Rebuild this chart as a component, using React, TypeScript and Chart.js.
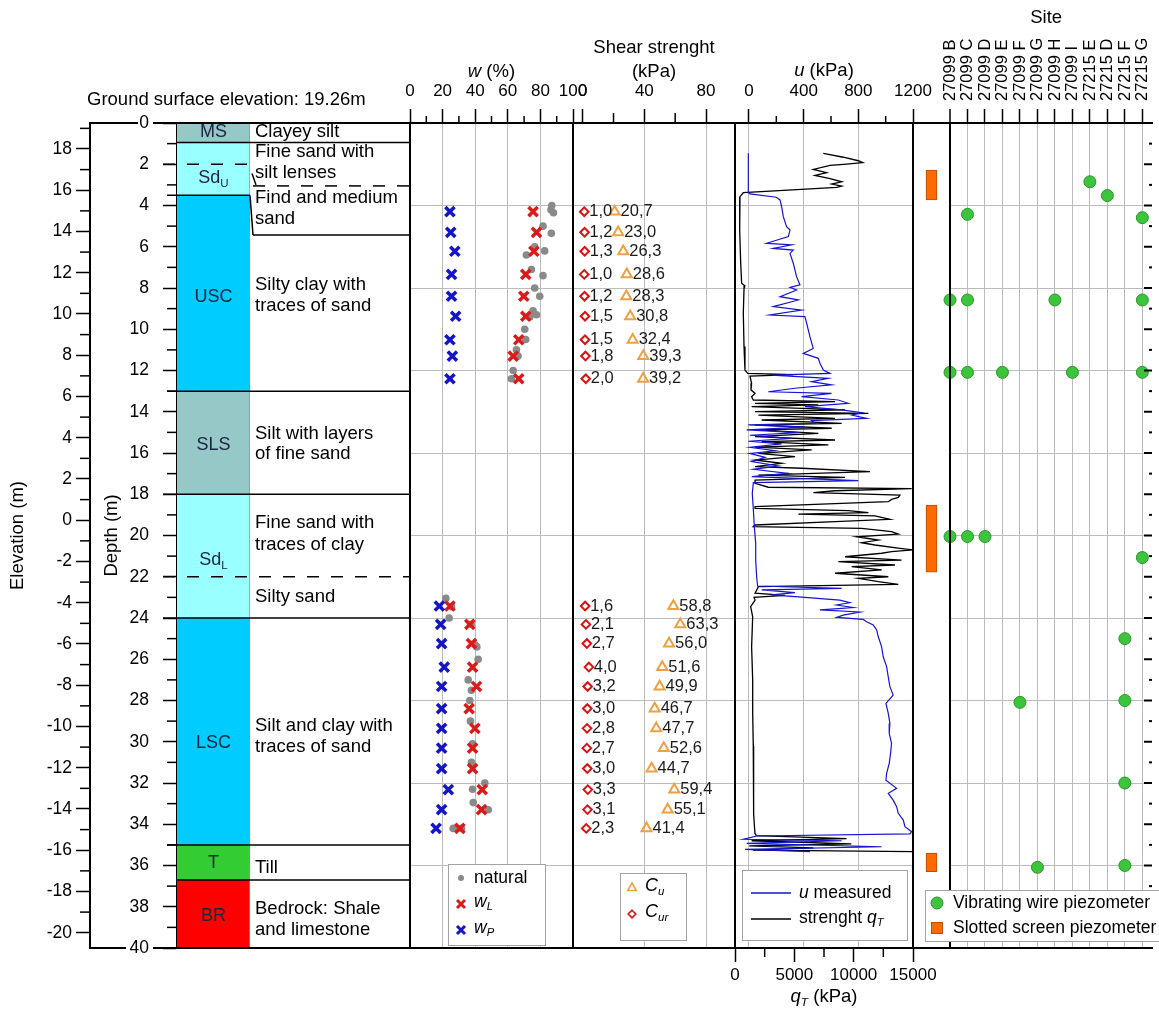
import React, { useEffect, useRef } from 'react';
import { Chart, registerables } from 'chart.js';

Chart.register(...registerables);

const FONT = '"Liberation Sans", Arial, Helvetica, sans-serif';
Chart.defaults.font.family = FONT;
Chart.defaults.color = '#000';

// ---------- page / panel geometry (px) ----------
const CW = 1159;
const CH = 1013;
const TOP = 123;
const BOT = 948;
const X_ELEV = 90;
const X_COL_L = 177;
const X_COL_R = 250;
const X_W_L = 410;
const X_W_R = 573;
const X_S_R = 735;
const X_U_R = 913;
const X_SITE_L = 950;
const GRID = '#bcbcbc';
const CLEAR = 'rgba(0,0,0,0)';

// ---------- axes ----------
const groundElevation = 19.26;
const depthMax = 40;
const depthTicks = [0, 2, 4, 6, 8, 10, 12, 14, 16, 18, 20, 22, 24, 26, 28, 30, 32, 34, 36, 38, 40];
const depthMinor = [1, 3, 5, 7, 9, 11, 13, 15, 17, 19, 21, 23, 25, 27, 29, 31, 33, 35, 37, 39];
const elevTicks = [-20, -18, -16, -14, -12, -10, -8, -6, -4, -2, 0, 2, 4, 6, 8, 10, 12, 14, 16, 18];
const elevMinor = [-19, -17, -15, -13, -11, -9, -7, -5, -3, -1, 1, 3, 5, 7, 9, 11, 13, 15, 17, 19];
const depthGrid = [4, 8, 12, 16, 20, 24, 28, 32, 36];
const wTicks = [0, 20, 40, 60, 80, 100];
const wMinor = [10, 30, 50, 70, 90];
const shearTicks = [0, 40, 80];
const shearMinor = [20, 60];
const uTicks = [0, 400, 800, 1200];
const uMinor = [200, 600, 1000];
const qtTicks = [0, 5000, 10000, 15000];
const qtMinor = [2500, 7500, 12500];

// ---------- stratigraphy ----------
const layerCodes = ['MS', 'Sd', 'USC', 'SLS', 'Sd', 'LSC', 'T', 'BR'];
const layerCodeSubs = ['', 'U', '', '', 'L', '', '', ''];
const layerTop = [0, 0.95, 3.5, 13, 18, 24, 35, 36.7];
const layerBottom = [0.95, 3.5, 13, 18, 24, 35, 36.7, 40];
const layerCodeDepth = [0.42, 2.68, 8.45, 15.6, 21.2, 30.05, 35.9, 38.45];
const layerColors = ['#96c8c8', '#99ffff', '#00ccff', '#96c8c8', '#99ffff', '#00ccff', '#33cc33', '#ff0000'];
const subLayerDepths = [2.0, 3.05, 5.43, 22.0];
const descText = [
  'Clayey silt', 'Fine sand with', 'silt lenses', 'Find and medium', 'sand',
  'Silty clay with', 'traces of sand', 'Silt with layers', 'of fine sand',
  'Fine sand with', 'traces of clay', 'Silty sand', 'Silt and clay with',
  'traces of sand', 'Till', 'Bedrock: Shale', 'and limestone',
];
const descDepth = [0.45, 1.39, 2.44, 3.65, 4.67, 7.85, 8.86, 15.05, 16.05, 19.41, 20.46, 22.97, 29.24, 30.24, 36.14, 38.12, 39.13];

// ---------- water content & shear strength (same samples) ----------
const sampleDepth = [4.3, 5.3, 6.22, 7.34, 8.4, 9.37, 10.51, 11.3, 12.4, 23.42, 24.31, 25.24, 26.38, 27.32, 28.39, 29.35, 30.31, 31.3, 32.32, 33.29, 34.2];
const wP = [24.5, 25, 27.5, 25.5, 25.5, 28, 24.5, 26, 24.5, 18, 18.8, 19.4, 21, 19.4, 19.4, 19.4, 19.4, 19.4, 23.5, 19.4, 16];
const wL = [75.5, 77.6, 76, 71, 69.8, 71, 66.7, 63.3, 66.7, 24.5, 36.7, 37.7, 38.4, 40.8, 36.3, 39.8, 38.4, 38.4, 44.3, 43.9, 30.6];
const cu = [20.7, 23.0, 26.3, 28.6, 28.3, 30.8, 32.4, 39.3, 39.2, 58.8, 63.3, 56.0, 51.6, 49.9, 46.7, 47.7, 52.6, 44.7, 59.4, 55.1, 41.4];
const cur = [1.0, 1.2, 1.3, 1.0, 1.2, 1.5, 1.5, 1.8, 2.0, 1.6, 2.1, 2.7, 4.0, 3.2, 3.0, 2.8, 2.7, 3.0, 3.3, 3.1, 2.3];
const naturalW: [number, number][] = [
  [4.0, 87], [4.2, 86.5], [4.35, 88], [5.0, 81.6], [5.35, 86.7], [6.0, 76.5], [6.2, 82.6], [6.4, 71.4],
  [7.1, 74.5], [7.4, 81.6], [8.0, 76.5], [8.4, 79.6], [9.1, 75.5], [9.3, 77.6], [9.4, 73.5], [10.0, 70.4],
  [10.5, 71], [11.0, 65.3], [11.3, 66.3], [12.0, 63.3], [12.4, 62.2],
  [23.05, 22], [23.45, 25.5], [24.0, 24], [24.3, 37.5], [25.3, 39.8], [25.4, 41], [26.0, 41.8], [27.0, 35.7],
  [27.5, 37.7], [28.0, 36.7], [29.0, 37.1], [30.1, 38.4], [31.0, 37.7], [32.0, 45.9], [32.3, 38.4],
  [32.95, 38.8], [33.3, 48], [34.2, 26.5], [34.2, 31.6],
];

// ---------- CPTU profile: [depth, value] ----------
const uMeasured: [number, number][] = [
  [1.47, -5], [3.38, -5], [3.44, 7], [3.6, 200], [3.73, 227], [4.06, 239], [4.54, 251], [5.03, 275], [5.19, 300], [5.51, 288],
  [5.83, 129], [5.91, 312], [6.08, 178], [6.16, 324], [6.32, 300], [6.8, 324], [7.45, 348], [7.85, 373], [7.97, 300], [8.1, 348],
  [8.42, 227], [8.58, 361], [8.9, 178], [9.07, 385], [9.31, 153], [9.39, 409], [9.71, 422], [10.04, 434], [10.36, 446], [10.93, 470],
  [11.17, 397], [11.41, 507], [11.65, 519], [11.98, 544], [12.14, 592], [12.22, 166], [12.38, 580], [12.54, 458], [12.7, 604], [12.86, 336],
  [13.03, 141], [13.11, 604], [13.27, 385], [13.43, 653], [13.59, 726], [13.75, 409], [13.91, 678], [14.04, 824], [14.16, 751], [14.32, 860],
  [14.43, 458], [14.56, 483], [14.64, -5], [14.75, 410], [14.88, -17], [15.01, 361], [15.14, 7], [15.29, 312], [15.43, -5], [15.56, 239],
  [15.72, 7], [15.89, 190], [16.02, 7], [16.21, 117], [16.42, 20], [16.63, 214], [16.79, 32], [16.99, 288], [17.15, 20], [17.34, 800],
  [17.44, 32], [17.95, 24], [18.76, 32], [19.57, 39], [20.38, 49], [21.19, 49], [22.0, 56], [22.45, 63], [22.56, 678], [22.64, 93],
  [22.77, 336], [22.88, 166], [22.99, 385], [23.13, 665], [23.26, 738], [23.37, 641], [23.49, 763], [23.61, 519], [23.71, 812], [23.86, 690],
  [23.97, 641], [24.07, 836], [24.18, 860], [24.34, 909], [24.58, 934], [24.91, 946], [25.39, 970], [25.88, 982], [26.36, 1007], [26.85, 1019],
  [27.33, 1031], [27.74, 1055], [28.14, 1002], [28.62, 1019], [29.11, 1031], [29.59, 1026], [30.08, 1043], [30.56, 1036], [31.05, 1026], [31.53, 1007],
  [31.86, 1002], [32.26, 1080], [32.5, 1019], [32.83, 1055], [33.15, 1080], [33.47, 1092], [33.8, 1129], [34.12, 1141], [34.36, 1190], [34.47, 1177],
  [34.57, 56], [34.73, -42], [34.8, 678], [34.93, -17], [35.09, 970], [35.22, -29], [35.33, 446],
];
const qtStrength: [number, number][] = [
  [1.47, 7440], [1.66, 9130], [1.83, 10390], [1.92, 10760], [1.99, 9410], [2.05, 8010], [2.25, 6600], [2.41, 7720], [2.54, 6740], [2.7, 8010],
  [2.85, 8990], [2.96, 8150], [3.06, 8990], [3.12, 8570], [3.38, 700], [3.57, 420], [4.06, 370], [5.19, 420], [6.8, 480], [7.77, 560],
  [7.9, 840], [8.02, 760], [9.23, 700], [10.84, 760], [11.98, 840], [12.14, 1070], [12.2, 4920], [12.27, 1260], [12.62, 1400], [12.94, 1350],
  [13.11, 1690], [13.27, 1400], [13.43, 1540], [13.51, 8430], [13.59, 1690], [13.67, 7020], [13.75, 1400], [13.91, 9270], [13.99, 1690], [14.08, 11240],
  [14.16, 1970], [14.32, 8430], [14.4, 2250], [14.56, 8990], [14.64, 1690], [14.8, 8150], [14.88, 1970], [15.05, 7020], [15.21, 1690], [15.37, 8430],
  [15.45, 2250], [15.61, 7870], [15.72, 1690], [15.85, 6460], [16.02, 1970], [16.18, 5060], [16.34, 1690], [16.5, 3930], [16.66, 1690], [16.74, 5620],
  [16.9, 11380], [17.07, 1970], [17.18, 9270], [17.31, 1690], [17.47, 1690], [17.66, 2810], [17.73, 14890], [17.83, 8430], [17.92, 6600], [18.04, 13900],
  [18.15, 13760], [18.25, 13200], [18.36, 12920], [18.6, 1690], [18.68, 1690], [18.79, 9550], [18.89, 11240], [18.96, 5340], [19.05, 11800], [19.22, 13060],
  [19.33, 8430], [19.49, 1690], [19.57, 1540], [19.65, 10670], [19.81, 13200], [19.93, 13760], [20.06, 10250], [20.22, 12080], [20.35, 10670], [20.46, 11800],
  [20.62, 13900], [20.7, 15000], [20.78, 13200], [20.86, 12360], [21.03, 9270], [21.19, 14040], [21.27, 8710], [21.43, 13480], [21.51, 9830], [21.67, 12360],
  [21.83, 8430], [22.0, 12920], [22.08, 10390], [22.24, 12080], [22.37, 13760], [22.48, 1970], [22.64, 1830], [22.8, 1690], [22.9, 4200], [23.0, 1600],
  [23.13, 1690], [23.45, 1320], [23.94, 1490], [25.4, 1400], [27.0, 1490], [28.6, 1490], [30.2, 1540], [31.9, 1540], [33.5, 1600], [34.45, 1680],
  [34.55, 1800], [34.7, 9400], [34.8, 1400], [34.95, 9800], [35.05, 1200], [35.15, 6600], [35.25, 1500], [35.33, 15000],
];

// ---------- piezometers ----------
const siteNames = ['27099 B', '27099 C', '27099 D', '27099 E', '27099 F', '27099 G', '27099 H', '27099 I', '27215 E', '27215 D', '27215 F', '27215 G'];
const vibratingWire: [number, number][] = [
  [8, 2.85], [9, 3.52], [1, 4.43], [11, 4.59], [0, 8.58], [1, 8.58], [6, 8.58], [11, 8.58],
  [0, 12.09], [1, 12.09], [3, 12.09], [7, 12.09], [11, 12.09], [0, 20.05], [1, 20.05], [2, 20.05],
  [11, 21.07], [10, 25.0], [4, 28.09], [10, 28.0], [10, 32.0], [5, 36.09], [10, 36.0],
];
const slotTop = [2.28, 18.52, 35.4];
const slotBottom = [3.73, 21.78, 36.3];

// ---------- helpers ----------
type Seg = { t: string; i?: boolean; sub?: boolean };
const fontStr = (size: number, italic?: boolean) => `${italic ? 'italic ' : ''}${size}px ${FONT}`;
function drawRich(ctx: any, segs: Seg[], x: number, y: number, size: number, align = 'left', color = '#000') {
  ctx.save();
  ctx.textBaseline = 'middle';
  ctx.textAlign = 'left';
  ctx.fillStyle = color;
  const sub = size * 0.64;
  const widths = segs.map((s) => { ctx.font = fontStr(s.sub ? sub : size, s.i); return ctx.measureText(s.t).width; });
  const total = widths.reduce((a, b) => a + b, 0);
  let cx = align === 'center' ? x - total / 2 : x;
  segs.forEach((s, k) => {
    ctx.font = fontStr(s.sub ? sub : size, s.i);
    ctx.fillText(s.t, cx, s.sub ? y + size * 0.3 : y);
    cx += widths[k];
  });
  ctx.restore();
}
function mX(ctx: any, x: number, y: number, r: number, color: string, lw: number) {
  ctx.save(); ctx.strokeStyle = color; ctx.lineWidth = lw; ctx.beginPath();
  ctx.moveTo(x - r, y - r); ctx.lineTo(x + r, y + r); ctx.moveTo(x + r, y - r); ctx.lineTo(x - r, y + r);
  ctx.stroke(); ctx.restore();
}
function mCircle(ctx: any, x: number, y: number, r: number, fill: string, stroke?: string) {
  ctx.save(); ctx.beginPath(); ctx.arc(x, y, r, 0, Math.PI * 2); ctx.fillStyle = fill; ctx.fill();
  if (stroke) { ctx.strokeStyle = stroke; ctx.lineWidth = 1; ctx.stroke(); }
  ctx.restore();
}
function mTri(ctx: any, x: number, y: number, r: number, color: string, lw: number) {
  ctx.save(); ctx.strokeStyle = color; ctx.lineWidth = lw; ctx.beginPath();
  ctx.moveTo(x, y - r); ctx.lineTo(x + 0.866 * r, y + 0.5 * r); ctx.lineTo(x - 0.866 * r, y + 0.5 * r); ctx.closePath();
  ctx.stroke(); ctx.restore();
}
function mDiamond(ctx: any, x: number, y: number, r: number, color: string, lw: number) {
  ctx.save(); ctx.strokeStyle = color; ctx.lineWidth = lw; ctx.beginPath();
  ctx.moveTo(x, y - r); ctx.lineTo(x + r, y); ctx.lineTo(x, y + r); ctx.lineTo(x - r, y); ctx.closePath();
  ctx.stroke(); ctx.restore();
}
function legendBox(ctx: any, x: number, y: number, w: number, h: number) {
  ctx.save(); ctx.fillStyle = '#fff'; ctx.fillRect(x, y, w, h);
  ctx.strokeStyle = '#a3a3a3'; ctx.lineWidth = 1; ctx.strokeRect(x + 0.5, y + 0.5, w, h); ctx.restore();
}
const fmtComma = (v: number) => v.toFixed(1).replace('.', ',');

const framePlugin = (id: string, sides: string) => ({
  id,
  afterDraw(chart: any) {
    const { ctx, chartArea: a } = chart;
    ctx.save(); ctx.strokeStyle = '#000'; ctx.lineWidth = 2; ctx.beginPath();
    if (sides.includes('t')) { ctx.moveTo(a.left - 1, a.top); ctx.lineTo(a.right + 1, a.top); }
    if (sides.includes('b')) { ctx.moveTo(a.left - 1, a.bottom); ctx.lineTo(a.right + 1, a.bottom); }
    if (sides.includes('l')) { ctx.moveTo(a.left, a.top); ctx.lineTo(a.left, a.bottom); }
    if (sides.includes('r')) { ctx.moveTo(a.right, a.top); ctx.lineTo(a.right, a.bottom); }
    ctx.stroke(); ctx.restore();
  },
});

const minorPlugin = (id: string, specs: { axis: string; values: number[]; len: number }[]) => ({
  id,
  afterDraw(chart: any) {
    const ctx = chart.ctx;
    ctx.save(); ctx.strokeStyle = '#000'; ctx.lineWidth = 1.5;
    for (const sp of specs) {
      const s = chart.scales[sp.axis];
      for (const v of sp.values) {
        const p = s.getPixelForValue(v);
        ctx.beginPath();
        if (s.position === 'top') { ctx.moveTo(p, s.bottom); ctx.lineTo(p, s.bottom - sp.len); }
        else if (s.position === 'bottom') { ctx.moveTo(p, s.top); ctx.lineTo(p, s.top + sp.len); }
        else { ctx.moveTo(s.right, p); ctx.lineTo(s.right - sp.len, p); }
        ctx.stroke();
      }
    }
    ctx.restore();
  },
});

const common = (padding: any) => ({
  responsive: false,
  animation: false,
  events: [],
  layout: { padding },
  plugins: { legend: { display: false }, tooltip: { enabled: false } },
});

const tickFont = { family: FONT, size: 17 };

const depthGridAxis = () => ({
  type: 'linear', position: 'left', min: 0, max: depthMax, reverse: true,
  afterBuildTicks: (s: any) => { s.ticks = depthGrid.map((v) => ({ value: v })); },
  afterFit: (s: any) => { s.width = 0; },
  ticks: { display: false },
  grid: { color: GRID, lineWidth: 1, drawTicks: false },
  border: { display: false },
});

const topAxis = (min: number, max: number, ticks: number[], gridColor: any) => ({
  type: 'linear', position: 'top', min, max,
  afterBuildTicks: (s: any) => { s.ticks = ticks.map((v) => ({ value: v })); },
  afterFit: (s: any) => { s.height = TOP; },
  ticks: { font: tickFont, color: '#000', padding: 7, maxRotation: 0, minRotation: 0, autoSkip: false, callback: (v: any) => String(v) },
  grid: { color: gridColor, lineWidth: 1, tickLength: 14, tickColor: '#000', tickWidth: 1.5 },
  border: { display: true, color: '#000', width: 2 },
});

// ---------- chart configs ----------
function stratConfig(): any {
  const stratPlugin = {
    id: 'strat',
    afterDraw(chart: any) {
      const { ctx, chartArea: a } = chart;
      const dS = chart.scales.depth;
      const py = (d: number) => dS.getPixelForValue(d);
      const L = a.left;
      const R = a.right;
      ctx.save();
      ctx.strokeStyle = '#000';
      const seg = (x1: number, d1: number, x2: number, d2: number, dashed = false, lw = 1.5) => {
        ctx.lineWidth = lw;
        ctx.setLineDash(dashed ? [12, 12] : []);
        ctx.beginPath(); ctx.moveTo(x1, py(d1)); ctx.lineTo(x2, py(d2)); ctx.stroke();
      };
      seg(X_ELEV, 0, L - 39, 0, false, 2); seg(L - 24, 0, X_W_L, 0, false, 2);
      seg(X_ELEV, depthMax, L - 51, depthMax, false, 2); seg(L - 24, depthMax, X_W_L, depthMax, false, 2);
      seg(L, layerBottom[0], X_W_L, layerBottom[0]);
      seg(L - 14, subLayerDepths[0], R, subLayerDepths[0], true);
      seg(R + 3, subLayerDepths[1], X_W_L, subLayerDepths[1], true);
      seg(R + 2, 2.45, R + 6, 3.0);
      seg(L - 10, layerBottom[1], R, layerBottom[1]);
      seg(R, layerBottom[1], R + 3, subLayerDepths[2]);
      seg(R + 3, subLayerDepths[2], X_W_L, subLayerDepths[2]);
      seg(L - 10, layerBottom[2], X_W_L, layerBottom[2]);
      seg(L - 14, layerBottom[3], X_W_L, layerBottom[3]);
      seg(L - 14, subLayerDepths[3], X_W_L, subLayerDepths[3], true);
      seg(L - 14, layerBottom[4], X_W_L, layerBottom[4]);
      seg(L - 10, layerBottom[5], X_W_L, layerBottom[5]);
      seg(L, layerBottom[6], X_W_L, layerBottom[6]);
      ctx.setLineDash([]);
      ctx.restore();
      layerCodes.forEach((c, i) => {
        const segs: Seg[] = [{ t: c }];
        if (layerCodeSubs[i]) segs.push({ t: layerCodeSubs[i], sub: true });
        drawRich(ctx, segs, (L + R) / 2, py(layerCodeDepth[i]), 18, 'center', '#1b2340');
      });
      descText.forEach((t, i) => drawRich(ctx, [{ t }], R + 5, py(descDepth[i]), 18.5, 'left', '#000'));
      drawRich(ctx, [{ t: `Ground surface elevation: ${groundElevation.toFixed(2)}m` }], 87, 100, 18.5, 'left', '#000');
    },
  };
  return {
    type: 'bar',
    data: {
      labels: ['column'],
      datasets: [{
        data: layerTop.map((t, i) => ({ x: 'column', y: [t, layerBottom[i]] })),
        backgroundColor: layerColors,
        borderColor: '#7c9c9c',
        borderWidth: { top: 0, bottom: 0, left: 0, right: 1 },
        borderSkipped: false,
        barPercentage: 1,
        categoryPercentage: 1,
        grouped: false,
        yAxisID: 'depth',
      }],
    },
    options: {
      ...common({ left: 0, right: CW - X_COL_R, top: TOP, bottom: CH - BOT }),
      scales: {
        x: { type: 'category', display: false },
        elev: {
          type: 'linear', position: 'left', weight: 10,
          min: groundElevation - depthMax, max: groundElevation,
          afterBuildTicks: (s: any) => { s.ticks = elevTicks.map((v) => ({ value: v })); },
          afterFit: (s: any) => { s.width = X_ELEV; },
          ticks: { font: { family: FONT, size: 17.5 }, color: '#000', padding: 4, autoSkip: false, callback: (v: any) => String(v) },
          grid: { drawOnChartArea: false, tickLength: 14, tickColor: '#000', tickWidth: 1.5 },
          border: { display: true, color: '#000', width: 2 },
          title: { display: true, text: 'Elevation (m)', color: '#000', font: { family: FONT, size: 18.5 }, padding: { top: 7, bottom: 0 } },
        },
        depth: {
          type: 'linear', position: 'left', weight: 0, min: 0, max: depthMax, reverse: true,
          afterBuildTicks: (s: any) => { s.ticks = depthTicks.map((v) => ({ value: v })); },
          afterFit: (s: any) => { s.width = X_COL_L - X_ELEV; },
          ticks: { font: { family: FONT, size: 17.5 }, color: '#000', padding: 14, autoSkip: false, callback: (v: any) => String(v) },
          grid: { drawOnChartArea: false, tickLength: 14, tickColor: '#000', tickWidth: 1.5 },
          border: { display: true, color: '#000', width: 1.5 },
          title: { display: true, text: 'Depth (m)', color: '#000', font: { family: FONT, size: 18.5 }, padding: { top: 11, bottom: 0 } },
        },
      },
    },
    plugins: [stratPlugin, minorPlugin('minA', [{ axis: 'elev', values: elevMinor, len: 10 }, { axis: 'depth', values: depthMinor, len: 10 }])],
  };
}

function wConfig(): any {
  const deco = {
    id: 'wDeco',
    afterDraw(chart: any) {
      const ctx = chart.ctx;
      drawRich(ctx, [{ t: 'w', i: true }, { t: ' (%)' }], (X_W_L + X_W_R) / 2, 72, 18.5, 'center');
      legendBox(ctx, 448, 864, 97, 81);
      mCircle(ctx, 461, 878, 3, '#8a8a8a');
      drawRich(ctx, [{ t: 'natural' }], 474, 878, 17.5);
      mX(ctx, 461, 904, 4, '#dd1a1a', 3);
      drawRich(ctx, [{ t: 'w', i: true }, { t: 'L', i: true, sub: true }], 474, 902, 17.5);
      mX(ctx, 461, 930, 4, '#1414c8', 3);
      drawRich(ctx, [{ t: 'w', i: true }, { t: 'P', i: true, sub: true }], 474, 928, 17.5);
    },
  };
  return {
    type: 'scatter',
    data: {
      datasets: [
        { data: sampleDepth.map((d, i) => ({ x: wP[i], y: d })), pointStyle: 'crossRot', pointRadius: 6.5, pointBorderWidth: 3.5, pointBorderColor: '#1414c8', pointBackgroundColor: '#1414c8' },
        { data: sampleDepth.map((d, i) => ({ x: wL[i], y: d })), pointStyle: 'crossRot', pointRadius: 6.5, pointBorderWidth: 3.5, pointBorderColor: '#dd1a1a', pointBackgroundColor: '#dd1a1a' },
        { data: naturalW.map(([d, v]) => ({ x: v, y: d })), pointStyle: 'circle', pointRadius: 3.8, pointBorderWidth: 0, pointBackgroundColor: '#8a8a8a', pointBorderColor: '#8a8a8a' },
      ],
    },
    options: {
      ...common({ left: X_W_L, right: CW - X_W_R, top: 0, bottom: CH - BOT }),
      scales: {
        x: topAxis(0, 100, wTicks, (c: any) => (c.tick && (c.tick.value === 0 || c.tick.value === 100) ? CLEAR : GRID)),
        y: depthGridAxis(),
      },
    },
    plugins: [framePlugin('frB', 'lrtb'), minorPlugin('minB', [{ axis: 'x', values: wMinor, len: 7 }]), deco],
  };
}

function shearConfig(): any {
  const deco = {
    id: 'sDeco',
    afterDatasetsDraw(chart: any) {
      const ctx = chart.ctx;
      ctx.save();
      ctx.font = fontStr(16.5);
      ctx.fillStyle = '#1a1a1a';
      ctx.textBaseline = 'middle';
      ctx.textAlign = 'left';
      chart.data.datasets.forEach((ds: any, di: number) => {
        const meta = chart.getDatasetMeta(di);
        meta.data.forEach((el: any, i: number) => ctx.fillText(ds.valueText[i], el.x + ds.valueDx, el.y));
      });
      ctx.restore();
    },
    afterDraw(chart: any) {
      const ctx = chart.ctx;
      const cx = (X_W_R + X_S_R) / 2;
      drawRich(ctx, [{ t: 'Shear strenght' }], cx, 48, 18.5, 'center');
      drawRich(ctx, [{ t: '(kPa)' }], cx, 72, 18.5, 'center');
      legendBox(ctx, 620, 873, 66, 67);
      mTri(ctx, 632, 888, 5, '#f0a040', 1.6);
      drawRich(ctx, [{ t: 'C', i: true }, { t: 'u', i: true, sub: true }], 645, 886, 18);
      mDiamond(ctx, 632, 914, 3.8, '#dd1111', 1.6);
      drawRich(ctx, [{ t: 'C', i: true }, { t: 'ur', i: true, sub: true }], 645, 912, 18);
    },
  };
  return {
    type: 'scatter',
    data: {
      datasets: [
        { data: sampleDepth.map((d, i) => ({ x: cur[i], y: d })), pointStyle: 'rectRot', pointRadius: 4.3, pointBorderWidth: 2, pointBorderColor: '#dd1111', pointBackgroundColor: '#ffffff', valueText: cur.map(fmtComma), valueDx: 5 },
        { data: sampleDepth.map((d, i) => ({ x: cu[i], y: d })), pointStyle: 'triangle', pointRadius: 5.8, pointBorderWidth: 2, pointBorderColor: '#f0a040', pointBackgroundColor: CLEAR, valueText: cu.map(fmtComma), valueDx: 6 },
      ],
    },
    options: {
      ...common({ left: X_W_R, right: CW - X_S_R, top: 0, bottom: CH - BOT }),
      scales: {
        x: topAxis(-6.29, 98.8, shearTicks, (c: any) => (c.tick && c.tick.value === 0 ? CLEAR : GRID)),
        y: depthGridAxis(),
      },
    },
    plugins: [framePlugin('frC', 'lrtb'), minorPlugin('minC', [{ axis: 'x', values: shearMinor, len: 10 }]), deco],
  };
}

function uConfig(): any {
  const deco = {
    id: 'uDeco',
    afterDraw(chart: any) {
      const ctx = chart.ctx;
      const cx = (X_S_R + X_U_R) / 2;
      drawRich(ctx, [{ t: 'u', i: true }, { t: ' (kPa)' }], cx, 71, 18.5, 'center');
      drawRich(ctx, [{ t: 'q', i: true }, { t: 'T', i: true, sub: true }, { t: ' (kPa)' }], cx, 997, 18.5, 'center');
      legendBox(ctx, 742, 870, 165, 70);
      ctx.save();
      ctx.lineWidth = 1.5;
      ctx.strokeStyle = '#1414d2'; ctx.beginPath(); ctx.moveTo(751, 893); ctx.lineTo(791, 893); ctx.stroke();
      ctx.strokeStyle = '#000'; ctx.beginPath(); ctx.moveTo(751, 919); ctx.lineTo(791, 919); ctx.stroke();
      ctx.restore();
      drawRich(ctx, [{ t: 'u', i: true }, { t: ' measured' }], 799, 893, 17.5);
      drawRich(ctx, [{ t: 'strenght ' }, { t: 'q', i: true }, { t: 'T', i: true, sub: true }], 799, 918, 17.5);
    },
  };
  return {
    type: 'scatter',
    data: {
      datasets: [
        { data: uMeasured.map(([d, v]) => ({ x: v, y: d })), xAxisID: 'x', showLine: true, borderColor: '#1414d2', borderWidth: 1.2, pointRadius: 0, tension: 0 },
        { data: qtStrength.map(([d, v]) => ({ x: v, y: d })), xAxisID: 'x2', showLine: true, borderColor: '#000000', borderWidth: 1.3, pointRadius: 0, tension: 0 },
      ],
    },
    options: {
      ...common({ left: X_S_R, right: CW - X_U_R, top: 0, bottom: 0 }),
      scales: {
        x: topAxis(-102.4, 1200, uTicks, (c: any) => (c.tick && c.tick.value === 1200 ? CLEAR : GRID)),
        x2: {
          type: 'linear', position: 'bottom', min: 0, max: 15000,
          afterBuildTicks: (s: any) => { s.ticks = qtTicks.map((v) => ({ value: v })); },
          afterFit: (s: any) => { s.height = CH - BOT; },
          ticks: { font: tickFont, color: '#000', padding: 3, maxRotation: 0, minRotation: 0, autoSkip: false, callback: (v: any) => String(v) },
          grid: { drawOnChartArea: false, tickLength: 14, tickColor: '#000', tickWidth: 1.5 },
          border: { display: true, color: '#000', width: 2 },
        },
        y: depthGridAxis(),
      },
    },
    plugins: [framePlugin('frD', 'lrtb'), minorPlugin('minD', [{ axis: 'x', values: uMinor, len: 7 }, { axis: 'x2', values: qtMinor, len: 9 }]), deco],
  };
}

function slotConfig(): any {
  return {
    type: 'bar',
    data: {
      labels: ['slotted'],
      datasets: [{
        data: slotTop.map((t, i) => ({ x: 'slotted', y: [t, slotBottom[i]] })),
        backgroundColor: '#ff6a00',
        borderColor: '#b65000',
        borderWidth: 1,
        borderSkipped: false,
        barThickness: 11,
        grouped: false,
      }],
    },
    options: {
      ...common({ left: X_U_R, right: CW - X_SITE_L, top: TOP, bottom: CH - BOT }),
      scales: {
        x: { type: 'category', display: false },
        y: { type: 'linear', display: false, min: 0, max: depthMax, reverse: true },
      },
    },
    plugins: [framePlugin('frF', 'tb')],
  };
}

function siteConfig(): any {
  const deco = {
    id: 'eDeco',
    afterDraw(chart: any) {
      const ctx = chart.ctx;
      const a = chart.chartArea;
      const yS = chart.scales.y;
      ctx.save(); ctx.strokeStyle = '#000'; ctx.lineWidth = 2;
      depthTicks.forEach((d) => { const p = yS.getPixelForValue(d); ctx.beginPath(); ctx.moveTo(a.right - 8, p); ctx.lineTo(a.right, p); ctx.stroke(); });
      depthMinor.forEach((d) => { const p = yS.getPixelForValue(d); ctx.beginPath(); ctx.moveTo(a.right - 3, p); ctx.lineTo(a.right, p); ctx.stroke(); });
      ctx.restore();
      const xS = chart.scales.x;
      drawRich(ctx, [{ t: 'Site' }], (xS.getPixelForValue(0) + xS.getPixelForValue(siteNames.length - 1)) / 2, 18, 18.5, 'center');
      legendBox(ctx, 925, 890, 245, 51);
      mCircle(ctx, 937, 903, 6, '#3cc43c', '#2a962a');
      drawRich(ctx, [{ t: 'Vibrating wire piezometer' }], 953, 903, 17.5);
      ctx.save(); ctx.fillStyle = '#ff6a00'; ctx.fillRect(931, 922, 12, 12); ctx.strokeStyle = '#b65000'; ctx.lineWidth = 1; ctx.strokeRect(931.5, 922.5, 11, 11); ctx.restore();
      drawRich(ctx, [{ t: 'Slotted screen piezometer' }], 953, 928, 17.5);
    },
  };
  return {
    type: 'scatter',
    data: {
      datasets: [{
        data: vibratingWire.map(([s, d]) => ({ x: s, y: d })),
        pointStyle: 'circle', pointRadius: 6, pointBorderWidth: 1, pointBorderColor: '#2a962a', pointBackgroundColor: '#3cc43c',
        clip: false,
      }],
    },
    options: {
      ...common({ left: X_SITE_L, right: 0, top: 0, bottom: CH - BOT }),
      scales: {
        x: {
          type: 'linear', position: 'top', min: 0, max: 11.553,
          afterBuildTicks: (s: any) => { s.ticks = siteNames.map((_, i) => ({ value: i })); },
          afterFit: (s: any) => { s.height = TOP; },
          ticks: { font: { family: FONT, size: 16.5 }, color: '#000', padding: 8, labelOffset: 20, minRotation: 90, maxRotation: 90, autoSkip: false, callback: (v: any) => siteNames[v] ?? '' },
          grid: {
            color: (c: any) => (c.tick && c.tick.value === 0 ? '#000' : GRID),
            lineWidth: (c: any) => (c.tick && c.tick.value === 0 ? 2 : 1),
            tickLength: 14, tickColor: '#000', tickWidth: 1.5,
          },
          border: { display: true, color: '#000', width: 2 },
        },
        y: depthGridAxis(),
      },
    },
    plugins: [framePlugin('frE', 'ltb'), deco],
  };
}

export default function App() {
  const r0 = useRef<HTMLCanvasElement>(null);
  const r1 = useRef<HTMLCanvasElement>(null);
  const r2 = useRef<HTMLCanvasElement>(null);
  const r3 = useRef<HTMLCanvasElement>(null);
  const r4 = useRef<HTMLCanvasElement>(null);
  const r5 = useRef<HTMLCanvasElement>(null);
  useEffect(() => {
    document.body.style.margin = '0';
    const charts = [
      new Chart(r0.current as any, stratConfig()),
      new Chart(r1.current as any, wConfig()),
      new Chart(r2.current as any, shearConfig()),
      new Chart(r3.current as any, uConfig()),
      new Chart(r4.current as any, slotConfig()),
      new Chart(r5.current as any, siteConfig()),
    ];
    return () => charts.forEach((c) => c.destroy());
  }, []);
  const refs = [r0, r1, r2, r3, r4, r5];
  return (
    <div style={{ position: 'relative', width: CW, height: CH, background: '#fff', overflow: 'hidden' }}>
      {refs.map((r, i) => (
        <canvas key={i} ref={r} width={CW} height={CH} style={{ position: 'absolute', left: 0, top: 0, display: 'block' }} />
      ))}
    </div>
  );
}
